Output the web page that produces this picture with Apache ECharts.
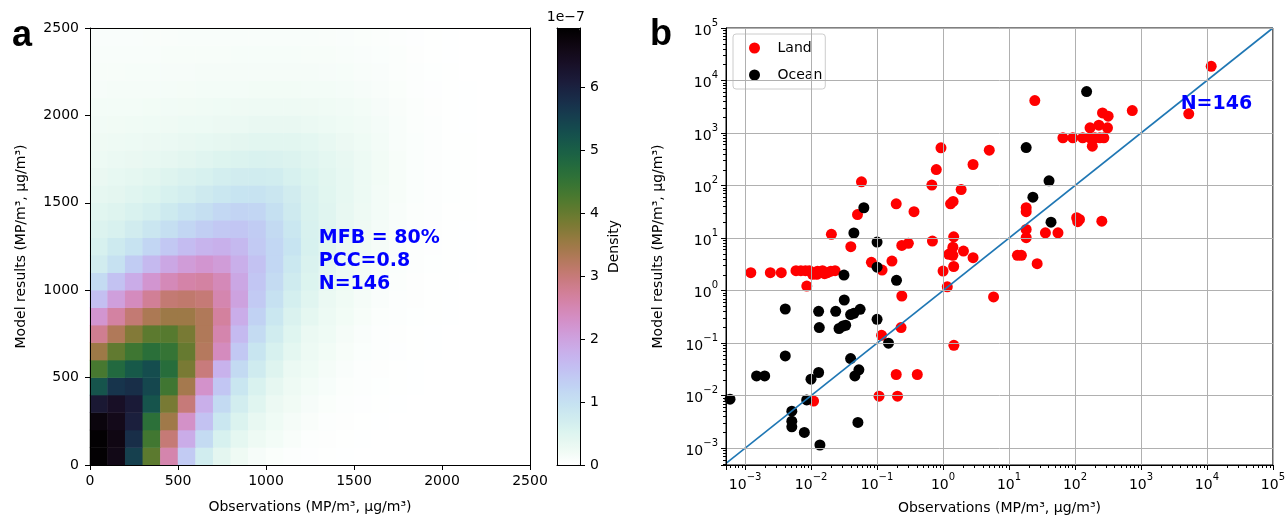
<!DOCTYPE html>
<html>
<head>
<meta charset="utf-8">
<script src="https://cdn.jsdelivr.net/npm/echarts@6/dist/echarts.min.js"></script>
<style>
html, body { margin: 0; padding: 0; background: #fff; }
#chart { width: 1288px; height: 520px; }
</style>
</head>
<body>
<div id="chart"></div>
<script>
// ---------- panel a: density (units of 1e-7), 100-unit cells ----------
const densityX = ['50', '150', '250', '350', '450', '550', '650', '750', '850', '950', '1050', '1150', '1250',
  '1350', '1450', '1550', '1650', '1750', '1850', '1950', '2050', '2150', '2250', '2350', '2450']
const densityY = densityX.slice()
// rows from y=50 (bottom) to y=2450 (top)
const density = [
  [6.9, 6.6, 5.5, 4.1, 2.55, 1.37, 0.71, 0.41, 0.24, 0.14, 0.08, 0.04, 0.03, 0.02, 0.01, 0, 0, 0, 0, 0, 0, 0, 0, 0, 0],
  [6.9, 6.65, 5.8, 4.37, 3.02, 1.85, 1.11, 0.6, 0.39, 0.25, 0.18, 0.11, 0.05, 0.035, 0.02, 0.01, 0, 0, 0, 0, 0, 0, 0, 0, 0],
  [6.75, 6.55, 6.04, 4.62, 3.47, 2.29, 1.5, 0.86, 0.54, 0.34, 0.235, 0.15, 0.1, 0.05, 0.035, 0.02, 0.01, 0, 0, 0, 0, 0, 0, 0, 0],
  [6.2, 6.4, 6.15, 5.2, 3.85, 3.0, 1.8, 1.13, 0.7, 0.46, 0.285, 0.21, 0.136, 0.08, 0.045, 0.03, 0.02, 0.01, 0, 0, 0, 0, 0, 0, 0],
  [5.2, 5.7, 5.8, 5.4, 4.38, 3.42, 2.26, 1.45, 0.9, 0.57, 0.38, 0.255, 0.18, 0.117, 0.06, 0.04, 0.025, 0.015, 0.01, 0, 0, 0, 0, 0, 0],
  [4.3, 4.8, 5.1, 5.3, 4.7, 3.84, 2.97, 1.76, 1.13, 0.75, 0.5, 0.3, 0.225, 0.15, 0.093, 0.05, 0.035, 0.02, 0.01, 0, 0, 0, 0, 0, 0],
  [3.5, 4.05, 4.4, 4.65, 4.5, 4.0, 3.25, 2.4, 1.42, 0.92, 0.6, 0.4, 0.264, 0.19, 0.123, 0.07, 0.045, 0.03, 0.02, 0.01, 0, 0, 0, 0, 0],
  [2.8, 3.3, 3.75, 4.1, 4.15, 3.85, 3.3, 2.55, 1.63, 1.1, 0.73, 0.48, 0.3, 0.226, 0.15, 0.096, 0.05, 0.035, 0.02, 0.01, 0, 0, 0, 0, 0],
  [2.2, 2.65, 3.05, 3.35, 3.5, 3.5, 3.3, 2.68, 1.83, 1.26, 0.87, 0.56, 0.39, 0.263, 0.187, 0.12, 0.064, 0.04, 0.025, 0.015, 0.01, 0, 0, 0, 0],
  [1.55, 2.05, 2.4, 2.75, 3.05, 3.1, 3.02, 2.53, 2.0, 1.39, 1.0, 0.65, 0.46, 0.3, 0.22, 0.15, 0.087, 0.05, 0.035, 0.02, 0.01, 0, 0, 0, 0],
  [1.1, 1.5, 1.85, 2.2, 2.45, 2.6, 2.65, 2.45, 1.92, 1.45, 1.11, 0.77, 0.52, 0.36, 0.25, 0.17, 0.107, 0.055, 0.035, 0.022, 0.012, 0.006, 0, 0, 0],
  [0.72, 1.0, 1.35, 1.65, 1.92, 2.1, 2.2, 2.1, 1.8, 1.5, 1.18, 0.85, 0.56, 0.4, 0.27, 0.19, 0.125, 0.07, 0.04, 0.025, 0.015, 0.008, 0, 0, 0],
  [0.6, 0.8, 0.95, 1.2, 1.42, 1.6, 1.72, 1.78, 1.65, 1.4, 1.18, 0.94, 0.6, 0.45, 0.3, 0.22, 0.145, 0.086, 0.048, 0.03, 0.018, 0.01, 0, 0, 0],
  [0.53, 0.59, 0.72, 0.88, 1.03, 1.2, 1.33, 1.43, 1.45, 1.35, 1.12, 0.87, 0.59, 0.46, 0.33, 0.24, 0.16, 0.108, 0.057, 0.035, 0.02, 0.01, 0, 0, 0],
  [0.45, 0.5, 0.57, 0.66, 0.8, 0.93, 1.03, 1.15, 1.23, 1.2, 1.02, 0.79, 0.58, 0.46, 0.34, 0.25, 0.17, 0.115, 0.06, 0.04, 0.022, 0.012, 0.005, 0, 0],
  [0.37, 0.41, 0.46, 0.52, 0.6, 0.68, 0.78, 0.87, 0.94, 0.96, 0.88, 0.72, 0.56, 0.45, 0.35, 0.26, 0.18, 0.12, 0.07, 0.04, 0.025, 0.013, 0.006, 0, 0],
  [0.31, 0.35, 0.39, 0.44, 0.5, 0.56, 0.61, 0.67, 0.72, 0.74, 0.71, 0.6, 0.52, 0.43, 0.35, 0.27, 0.19, 0.12, 0.075, 0.045, 0.025, 0.013, 0.006, 0, 0],
  [0.27, 0.29, 0.31, 0.34, 0.38, 0.42, 0.47, 0.51, 0.55, 0.57, 0.56, 0.53, 0.47, 0.4, 0.34, 0.27, 0.19, 0.12, 0.075, 0.045, 0.025, 0.013, 0.006, 0, 0],
  [0.24, 0.25, 0.27, 0.28, 0.3, 0.32, 0.35, 0.38, 0.41, 0.43, 0.44, 0.43, 0.4, 0.34, 0.28, 0.23, 0.17, 0.11, 0.07, 0.04, 0.022, 0.012, 0.006, 0, 0],
  [0.2, 0.21, 0.22, 0.23, 0.24, 0.26, 0.27, 0.28, 0.3, 0.32, 0.33, 0.32, 0.29, 0.26, 0.23, 0.2, 0.16, 0.11, 0.065, 0.04, 0.02, 0.01, 0.005, 0, 0],
  [0.17, 0.175, 0.18, 0.19, 0.2, 0.21, 0.22, 0.23, 0.24, 0.25, 0.25, 0.25, 0.24, 0.22, 0.2, 0.17, 0.14, 0.1, 0.06, 0.035, 0.02, 0.01, 0.005, 0, 0],
  [0.14, 0.145, 0.15, 0.155, 0.16, 0.165, 0.17, 0.175, 0.18, 0.185, 0.19, 0.19, 0.18, 0.17, 0.16, 0.14, 0.11, 0.08, 0.05, 0.03, 0.015, 0.008, 0, 0, 0],
  [0.12, 0.125, 0.13, 0.135, 0.14, 0.14, 0.145, 0.15, 0.15, 0.15, 0.15, 0.15, 0.145, 0.14, 0.13, 0.115, 0.09, 0.065, 0.04, 0.025, 0.012, 0.006, 0, 0, 0],
  [0.105, 0.11, 0.11, 0.115, 0.12, 0.12, 0.125, 0.125, 0.13, 0.13, 0.13, 0.13, 0.125, 0.12, 0.11, 0.095, 0.075, 0.055, 0.035, 0.02, 0.01, 0.005, 0, 0, 0],
  [0.09, 0.095, 0.095, 0.1, 0.1, 0.105, 0.105, 0.11, 0.11, 0.11, 0.11, 0.11, 0.105, 0.1, 0.09, 0.08, 0.065, 0.045, 0.03, 0.018, 0.009, 0.004, 0, 0, 0]
]
const densityMax = 6.95
const colorbarTicks = [0, 1, 2, 3, 4, 5, 6]

// ---------- panel b: observations vs model (log-log) ----------
const landObs = [0.00122, 0.00241, 0.00353, 0.0059, 0.0070, 0.0082, 0.0094, 0.0112, 0.0125, 0.0149, 0.0177, 0.0199, 0.0231,
  0.0105, 0.016, 0.0122, 0.0086, 0.058, 0.0203, 0.0505, 0.040, 0.195, 0.363, 0.237, 0.298, 0.082, 0.119, 0.168,
  0.237, 0.231, 0.117, 0.195, 0.407, 0.107, 0.204, 0.0109, 0.676, 0.79, 0.93, 0.69, 1.0, 1.16, 1.45, 1.3, 1.42,
  1.88, 2.85, 5.02, 1.45, 1.41, 1.33, 1.22, 1.41, 2.04, 2.85, 1.46, 5.83, 18.2, 18.2, 24.6, 13.4, 15.4, 26.7,
  18.2, 18.2, 35.6, 55.2, 106, 117, 110, 255, 65.6, 92.7, 131, 169, 200, 238, 274, 183, 169, 230, 311, 261, 318,
  738, 5300, 11600]
const landModel = [2.2, 2.2, 2.2, 2.4, 2.4, 2.4, 2.4, 2.2, 2.35, 2.4, 2.2, 2.35, 2.4,
  2.05, 2.1, 2.05, 1.22, 118, 11.8, 28, 6.86, 45, 31.8, 7.26, 7.94, 3.45, 2.46, 3.65,
  0.79, 0.198, 0.141, 0.0253, 0.0253, 0.0098, 0.0098, 0.0079, 102, 202, 523, 8.77, 2.36, 1.18, 10.6, 45, 50,
  84, 252, 471, 2.88, 6.7, 5.3, 4.9, 4.7, 5.66, 4.24, 0.091, 0.757, 37.8, 31.8, 4150, 4.69, 4.69, 3.26,
  14.6, 10.2, 12.6, 12.6, 24.4, 22.7, 20.5, 21, 811, 811, 811, 811, 811, 811, 811, 561, 1260, 1410, 1260, 2420, 2090,
  2680, 2320, 18600]
const oceanObs = [0.063, 0.0445, 0.1, 0.1, 0.0315, 0.197, 0.00406, 0.013, 0.0133, 0.0318, 0.0236, 0.0397, 0.0445,
  0.0553, 0.0265, 0.0304, 0.0334, 0.1, 0.149, 0.00406, 0.00149, 0.00198, 0.00059, 0.00996, 0.013, 0.0397, 0.0461,
  0.053, 0.00857, 0.0051, 0.0051, 0.0051, 0.0079, 0.0136, 0.0512, 150, 18.2, 40.4, 23, 43.3]
const oceanModel = [37.8, 12.5, 8.4, 2.8, 1.98, 1.57, 0.447, 0.404, 0.198, 0.663, 0.404, 0.35, 0.37,
  0.44, 0.19, 0.212, 0.219, 0.284, 0.0996, 0.0571, 0.0238, 0.0238, 0.00858, 0.0206, 0.0276, 0.0509, 0.0238,
  0.031, 0.0083, 0.00507, 0.00327, 0.00255, 0.002, 0.00115, 0.00309, 6150, 530, 123, 60, 20.1]
const obsMin = Math.pow(10, -3.29)
const modMin = Math.pow(10, -3.32)
const logMax = 1e5

// ---------- helpers ----------
const FONT = 'DejaVu Sans'
const INK = '#000'

// matplotlib cubehelix, reversed (0 -> white, max -> black)
function cubehelixR (t) {
  const x = 1 - t
  const a = x * (1 - x) / 2
  const phi = 2 * Math.PI * (0.5 / 3 - 1.5 * x)
  const c = Math.cos(phi)
  const s = Math.sin(phi)
  const to = v => Math.round(Math.max(0, Math.min(1, v)) * 255)
  const r = x + a * (-0.14861 * c + 1.78277 * s)
  const g = x + a * (-0.29227 * c - 0.90649 * s)
  const b = x + a * (1.97294 * c)
  return 'rgb(' + to(r) + ',' + to(g) + ',' + to(b) + ')'
}
const cmap = []
for (let i = 0; i <= 64; i++) cmap.push(cubehelixR(i / 64))

const heatData = []
density.forEach((row, j) => row.forEach((v, i) => heatData.push([i, j, v])))

// minor log ticks 2..9 x 10^k
const minorTicks = []
for (let k = -4; k <= 4; k++) {
  for (let m = 2; m <= 9; m++) minorTicks.push(m * Math.pow(10, k))
}

function decadeLabel (v) {
  const e = Math.log10(v)
  const k = Math.round(e)
  if (Math.abs(e - k) > 1e-6) return ''
  return '{n|10}{e|' + (k < 0 ? '\u2212' + (-k) : k) + '}'
}
const richSup = {
  n: { fontFamily: FONT, fontSize: 14, color: INK, lineHeight: 20, verticalAlign: 'bottom' },
  e: { fontFamily: FONT, fontSize: 10, color: INK, lineHeight: 11, verticalAlign: 'top' }
}

const lineStyle = { color: INK, width: 1 }
const spine = (extra) => Object.assign({
  show: true,
  axisLine: { show: true, onZero: false, lineStyle },
  axisTick: { show: false },
  axisLabel: { show: false },
  splitLine: { show: false },
  z: 10
}, extra)
const nameStyle = { fontFamily: FONT, fontSize: 14, color: INK }
const labelStyle = { fontFamily: FONT, fontSize: 14, color: INK, formatter: v => String(v) }

const option = {
  animation: false,
  backgroundColor: '#fff',
  grid: [
    { left: 90, top: 28, width: 440, height: 437 },
    { left: 557, top: 28, width: 23, height: 437 },
    { left: 726, top: 28, width: 549, height: 438, show: true, borderColor: INK, borderWidth: 1, backgroundColor: 'transparent' }
  ],
  xAxis: [
    spine({ type: 'category', gridIndex: 0, data: densityX, position: 'top', boundaryGap: true }),
    {
      type: 'value', gridIndex: 0, min: 0, max: 2500, interval: 500, position: 'bottom', z: 10,
      axisLine: { show: true, onZero: false, lineStyle },
      axisTick: { show: true, length: 5, lineStyle },
      axisLabel: Object.assign({ margin: 9 }, labelStyle),
      splitLine: { show: false },
      name: 'Observations (MP/m\u00b3, \u00b5g/m\u00b3)', nameLocation: 'middle', nameGap: 35, nameTextStyle: nameStyle
    },
    spine({ type: 'value', gridIndex: 1, min: 0, max: 1, position: 'bottom' }),
    spine({ type: 'value', gridIndex: 1, min: 0, max: 1, position: 'top' }),
    {
      type: 'log', gridIndex: 2, min: obsMin, max: logMax, position: 'bottom', z: 10,
      axisLine: { show: true, onZero: false, lineStyle },
      axisTick: { show: true, length: 5, lineStyle },
      axisLabel: { margin: 7, formatter: decadeLabel, rich: richSup },
      splitLine: { show: true, lineStyle: { color: '#b0b0b0', width: 1 } },
      name: 'Observations (MP/m\u00b3, \u00b5g/m\u00b3)', nameLocation: 'middle', nameGap: 36, nameTextStyle: nameStyle
    },
    {
      type: 'log', gridIndex: 2, min: obsMin, max: logMax, position: 'bottom', z: 10,
      axisLine: { show: false },
      axisTick: { show: true, length: 3, lineStyle, customValues: minorTicks },
      axisLabel: { show: false },
      splitLine: { show: false }
    }
  ],
  yAxis: [
    spine({ type: 'category', gridIndex: 0, data: densityY, position: 'right', boundaryGap: true }),
    {
      type: 'value', gridIndex: 0, min: 0, max: 2500, interval: 500, position: 'left', z: 10,
      axisLine: { show: true, onZero: false, lineStyle },
      axisTick: { show: true, length: 5, lineStyle },
      axisLabel: Object.assign({ margin: 11 }, labelStyle),
      splitLine: { show: false },
      name: 'Model results (MP/m\u00b3, \u00b5g/m\u00b3)', nameLocation: 'middle', nameGap: 62, nameTextStyle: nameStyle
    },
    {
      type: 'value', gridIndex: 1, min: 0, max: densityMax, position: 'right', z: 10,
      axisLine: { show: true, onZero: false, lineStyle },
      axisTick: { show: true, length: 5, lineStyle, customValues: colorbarTicks },
      axisLabel: Object.assign({ margin: 10, customValues: colorbarTicks }, labelStyle),
      splitLine: { show: false },
      name: 'Density', nameLocation: 'middle', nameGap: 27, nameTextStyle: nameStyle
    },
    spine({ type: 'value', gridIndex: 1, min: 0, max: densityMax, position: 'left' }),
    {
      type: 'log', gridIndex: 2, min: modMin, max: logMax, position: 'left', z: 10,
      axisLine: { show: true, onZero: false, lineStyle },
      axisTick: { show: true, length: 5, lineStyle },
      axisLabel: { margin: 8, formatter: decadeLabel, rich: richSup },
      splitLine: { show: true, lineStyle: { color: '#b0b0b0', width: 1 } },
      name: 'Model results (MP/m\u00b3, \u00b5g/m\u00b3)', nameLocation: 'middle', nameGap: 61, nameTextStyle: nameStyle
    },
    {
      type: 'log', gridIndex: 2, min: modMin, max: logMax, position: 'left', z: 10,
      axisLine: { show: false },
      axisTick: { show: true, length: 3, lineStyle, customValues: minorTicks },
      axisLabel: { show: false },
      splitLine: { show: false }
    }
  ],
  visualMap: [{
    type: 'continuous',
    seriesIndex: 0,
    min: 0,
    max: densityMax,
    inRange: { color: cmap },
    orient: 'vertical',
    left: 557,
    top: 28,
    itemWidth: 23,
    itemHeight: 437,
    padding: 0,
    calculable: false,
    hoverLink: false
  }],
  legend: {
    data: ['Land', 'Ocean'],
    orient: 'vertical',
    left: 733,
    top: 34,
    icon: 'circle',
    itemWidth: 36,
    itemHeight: 11,
    itemGap: 13,
    padding: [7, 3, 7, 16],
    backgroundColor: 'rgba(255,255,255,0.8)',
    borderColor: '#cccccc',
    borderWidth: 1,
    borderRadius: 3,
    selectedMode: false,
    textStyle: { fontFamily: FONT, fontSize: 14, color: INK }
  },
  series: [
    {
      type: 'heatmap',
      xAxisIndex: 0,
      yAxisIndex: 0,
      data: heatData,
      emphasis: { disabled: true },
      progressive: 0
    },
    {
      name: 'Land',
      type: 'scatter',
      xAxisIndex: 4,
      yAxisIndex: 4,
      symbolSize: 11,
      itemStyle: { color: '#ff0000', opacity: 1 },
      data: landObs.map((v, i) => [v, landModel[i]]),
      z: 3
    },
    {
      name: 'Ocean',
      type: 'scatter',
      xAxisIndex: 4,
      yAxisIndex: 4,
      symbolSize: 11,
      itemStyle: { color: '#000000', opacity: 1 },
      data: oceanObs.map((v, i) => [v, oceanModel[i]]),
      z: 4
    },
    {
      name: '1:1',
      type: 'line',
      xAxisIndex: 4,
      yAxisIndex: 4,
      symbol: 'none',
      lineStyle: { color: '#1f77b4', width: 1.6 },
      data: [[obsMin, obsMin], [logMax, logMax]],
      z: 5
    }
  ]
}

const chart = echarts.init(document.getElementById('chart'), null, { renderer: 'canvas' })
chart.setOption(option)

// annotations anchored to data coordinates
const pA = chart.convertToPixel({ xAxisIndex: 1, yAxisIndex: 1 }, [1300, 1000])
const pB = chart.convertToPixel({ xAxisIndex: 4, yAxisIndex: 4 }, [4000, 2700])
chart.setOption({
  graphic: [
    {
      type: 'text', x: pA[0], y: pA[1] + 5, z: 100,
      style: { text: 'MFB = 80%\nPCC=0.8\nN=146', fontFamily: FONT, fontWeight: 'bold', fontSize: 19, lineHeight: 23, fill: '#0000ff', textAlign: 'left', textVerticalAlign: 'bottom' }
    },
    {
      type: 'text', x: pB[0], y: pB[1] + 5, z: 100,
      style: { text: 'N=146', fontFamily: FONT, fontWeight: 'bold', fontSize: 19, lineHeight: 23, fill: '#0000ff', textAlign: 'left', textVerticalAlign: 'bottom' }
    },
    {
      type: 'text', x: 12, y: 36, z: 100,
      style: { text: 'a', fontFamily: 'Liberation Sans', fontWeight: 'bold', fontSize: 36, fill: INK, textAlign: 'left', textVerticalAlign: 'middle' }
    },
    {
      type: 'text', x: 650, y: 35, z: 100,
      style: { text: 'b', fontFamily: 'Liberation Sans', fontWeight: 'bold', fontSize: 36, fill: INK, textAlign: 'left', textVerticalAlign: 'middle' }
    },
    {
      type: 'text', x: 585, y: 17, z: 100,
      style: { text: '1e\u22127', fontFamily: FONT, fontSize: 14, fill: INK, textAlign: 'right', textVerticalAlign: 'middle' }
    }
  ]
})
</script>
</body>
</html>
